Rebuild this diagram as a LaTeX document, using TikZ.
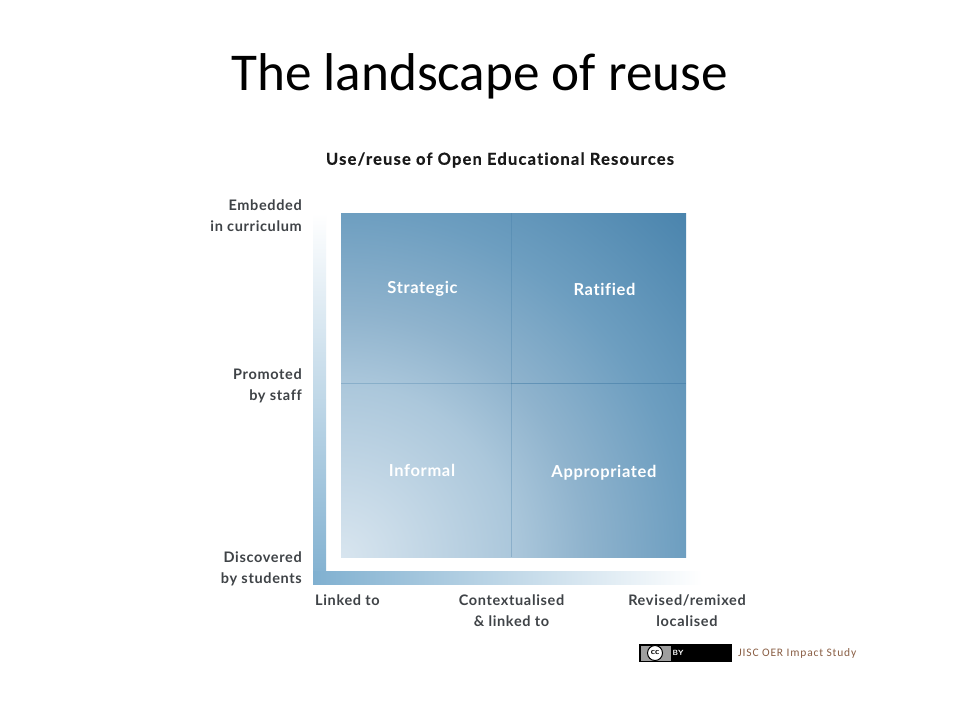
\documentclass[tikz,border=0pt]{standalone}
\usepackage{fontspec}
\setmainfont{Carlito}
\newfontfamily\din{Lato}[LetterSpace=4.5,Ligatures=NoCommon]
\newfontfamily\dinhead{Lato}[LetterSpace=7.2,Ligatures=NoCommon,BoldFeatures={FakeBold=0.5}]
\newfontfamily\dincell{Lato}[LetterSpace=4,Ligatures=NoCommon]
\newfontfamily\creditfont{Carlito}[LetterSpace=7.2,Ligatures=NoCommon]
\definecolor{axisblue}{HTML}{80B0D0}
\definecolor{labelgray}{HTML}{3F4347}
\definecolor{credit}{HTML}{8A5F45}
\definecolor{seam}{HTML}{3F7AA5}
\definecolor{sqa}{HTML}{D8E5EF}
\definecolor{sqb}{HTML}{ABC7DB}
\definecolor{sqc}{HTML}{8FB3CD}
\definecolor{sqd}{HTML}{6D9EC0}
\definecolor{sqe}{HTML}{4A84AD}
\pgfdeclareradialshading{sqrad}{\pgfpointorigin}{
  color(0bp)=(sqa);
  color(8.85bp)=(sqb);
  color(12.5bp)=(sqc);
  color(17.7bp)=(sqd);
  color(25bp)=(sqe);
  color(50bp)=(sqe)}
\tikzset{
  x=1pt,y=-1pt,
  axislabel/.style={font=\din\bfseries\fontsize{14.5}{21}\selectfont,text=labelgray,inner sep=0pt,align=center},
  sidelabel/.style={axislabel,align=right,anchor=east},
  cell/.style={font=\dincell\bfseries\fontsize{16.5}{18}\selectfont,text=white,inner sep=0pt},
  seamline/.style={draw=seam,line width=1pt,opacity=0.3}
}
\begin{document}
\begin{tikzpicture}
\useasboundingbox (0,0) rectangle (960,720);
\fill[white] (0,0) rectangle (960,720);
\node[inner sep=0pt,font=\fontsize{53.2}{60}\selectfont,text=black] (title) at (479.5,76) {The landscape of reuse};
\node[inner sep=0pt,font=\dinhead\bfseries\fontsize{16.5}{18}\selectfont,text=black!90] (head) at (500,160) {Use/reuse of Open Educational Resources};
% square
\begin{scope}
\clip (341,213) rectangle (686,557);
\shade[shading=sqrad] (-147,69) rectangle (829,1045);
\end{scope}
\draw[seamline] (511,213) -- (511,557);
\draw[seamline] (341,383) -- (686,383);
\draw[seamline] (511,383) -- (686,383);
% axes
\shade[bottom color=axisblue,top color=white] (313,213) rectangle (326,584);
\shade[left color=axisblue,right color=white] (313,571) rectangle (702,584);
% quadrant labels
\node[cell] (strategic) at (422.5,288.5) {Strategic};
\node[cell] (ratified) at (604.5,289) {Ratified};
\node[cell] (informal) at (422,470) {Informal};
\node[cell] (appropriated) at (604,472.5) {Appropriated};
% side labels
\node[sidelabel] (embedded) at (302,216) {Embedded\\in curriculum};
\node[sidelabel] (promoted) at (302,386) {Promoted\\by staff};
\node[sidelabel] (discovered) at (302,569) {Discovered\\by students};
% bottom labels
\node[axislabel,anchor=west] (linked) at (315,600) {Linked to};
\node[axislabel] (context) at (511.5,610.5) {Contextualised\\\& linked to};
\node[axislabel] (revised) at (687,610.5) {Revised/remixed\\localised};
% licence badge
\fill[black] (639,644) rectangle (732,662);
\fill[gray!75] (640.5,645.5) rectangle (671,660.5);
\node[circle,fill=white,draw=black,line width=1pt,minimum size=15pt,inner sep=0pt,font=\sffamily\bfseries\fontsize{8.5}{9}\selectfont] (cc) at (655,653) {cc};
\node[inner sep=0pt,font=\sffamily\bfseries\fontsize{7.5}{8}\selectfont,text=white] (by) at (678,653) {BY};
\node[inner sep=0pt,anchor=west,font=\creditfont\fontsize{11.5}{13}\selectfont,text=credit] (study) at (738,653) {JISC OER Impact Study};
\end{tikzpicture}
\end{document}
